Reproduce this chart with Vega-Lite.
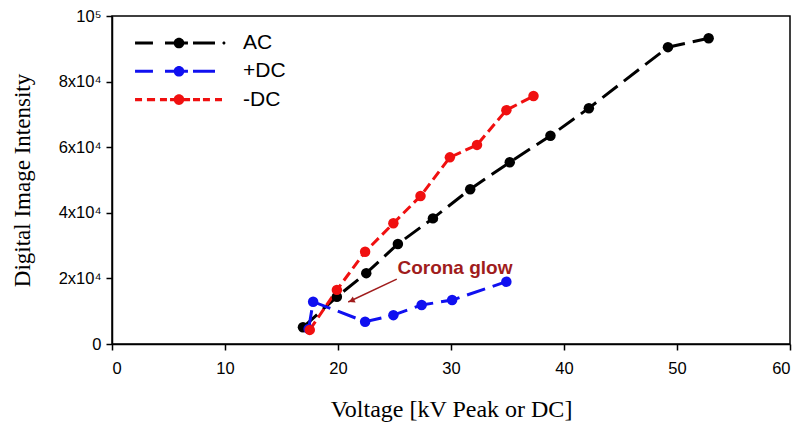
{
  "$schema": "https://vega.github.io/schema/vega-lite/v6.json",
  "width": 678,
  "height": 328,
  "autosize": {"type": "none"},
  "padding": {"left": 112, "top": 16, "right": 9, "bottom": 83},
  "background": "white",
  "config": {
    "view": {"stroke": "black", "strokeWidth": 1.5},
    "axis": {
      "domainColor": "black", "domainWidth": 1.5, "tickColor": "black", "tickWidth": 1.5, "tickSize": 6,
      "grid": false, "labelColor": "black", "labelFont": "Liberation Sans", "labelFontSize": 16.5,
      "titleColor": "black", "titleFont": "Liberation Serif", "titleFontSize": 23, "titleFontWeight": "normal"
    }
  },
  "datasets": {
    "series": [
      {"series": "AC", "v": 16.9, "i": 5100},
      {"series": "AC", "v": 19.9, "i": 14400},
      {"series": "AC", "v": 22.5, "i": 21600},
      {"series": "AC", "v": 25.3, "i": 30500},
      {"series": "AC", "v": 28.4, "i": 38300},
      {"series": "AC", "v": 31.7, "i": 47200},
      {"series": "AC", "v": 35.2, "i": 55400},
      {"series": "AC", "v": 38.8, "i": 63500},
      {"series": "AC", "v": 42.2, "i": 71900},
      {"series": "AC", "v": 49.2, "i": 90500},
      {"series": "AC", "v": 52.8, "i": 93200},
      {"series": "+DC", "v": 17.4, "i": 4600},
      {"series": "+DC", "v": 17.8, "i": 12900},
      {"series": "+DC", "v": 22.4, "i": 6800},
      {"series": "+DC", "v": 24.9, "i": 8800},
      {"series": "+DC", "v": 27.4, "i": 11900},
      {"series": "+DC", "v": 30.1, "i": 13400},
      {"series": "+DC", "v": 34.9, "i": 19000},
      {"series": "-DC", "v": 17.5, "i": 4300},
      {"series": "-DC", "v": 19.9, "i": 16500},
      {"series": "-DC", "v": 22.4, "i": 28100},
      {"series": "-DC", "v": 24.9, "i": 36800},
      {"series": "-DC", "v": 27.3, "i": 45100},
      {"series": "-DC", "v": 29.9, "i": 56900},
      {"series": "-DC", "v": 32.3, "i": 60700},
      {"series": "-DC", "v": 34.9, "i": 71300},
      {"series": "-DC", "v": 37.3, "i": 75600}
    ],
    "arrow": [{"v": 25.2, "i": 19800, "v2": 20.9, "i2": 12800}],
    "head": [{"v": 21.2, "i": 13200}],
    "label": [{"v": 30.35, "i": 23200, "text": "Corona glow"}]
  },
  "encoding": {
    "x": {
      "field": "v", "type": "quantitative",
      "scale": {"domain": [0, 60], "nice": false},
      "axis": {"title": "Voltage [kV Peak or DC]", "titleFontSize": 24, "values": [0, 10, 20, 30, 40, 50, 60], "labelPadding": 10, "titlePadding": 21}
    },
    "y": {
      "field": "i", "type": "quantitative",
      "scale": {"domain": [0, 100000], "nice": false},
      "axis": {
        "title": "Digital Image Intensity", "values": [0, 20000, 40000, 60000, 80000, 100000],
        "labelExpr": "datum.value == 0 ? '0' : datum.value == 100000 ? '10⁵' : (datum.value / 10000) + 'x10⁴'",
        "labelPadding": 5, "titlePadding": 24
      }
    }
  },
  "layer": [
    {
      "data": {"name": "series"},
      "mark": {"type": "line", "strokeWidth": 3},
      "encoding": {
        "color": {
          "field": "series", "type": "nominal",
          "scale": {"domain": ["AC", "+DC", "-DC"], "range": ["#000000", "#1010f0", "#f01010"]},
          "legend": {
            "orient": "none", "legendX": 53, "legendY": 13, "title": null,
            "symbolSize": 784, "labelOffset": 50, "labelFontSize": 21, "labelFont": "Liberation Sans",
            "labelColor": "black", "rowPadding": 4.3, "padding": 0, "symbolStrokeWidth": 0,
            "encode": {
              "symbols": {
                "update": {
                  "shape": {"signal": "datum.value === '-DC' ? 'M-3.14,-0.11H-2.64V0.11H-3.14Z M-2.29,-0.11H-1.71V0.11H-2.29Z M-1.36,-0.11H-0.86V0.11H-1.36Z M-0.64,-0.11H-0.36V0.11H-0.64Z M-0.38,0A0.38,0.38 0 1,1 0.38,0A0.38,0.38 0 1,1 -0.38,0Z M0.36,-0.11H0.79V0.11H0.36Z M1,-0.11H1.5V0.11H1Z M1.71,-0.11H2.21V0.11H1.71Z M2.57,-0.11H3.07V0.11H2.57Z' : datum.value === 'AC' ? 'M-3.14,-0.11H-1.86V0.11H-3.14Z M-1,-0.11H-0.36V0.11H-1Z M-0.38,0A0.38,0.38 0 1,1 0.38,0A0.38,0.38 0 1,1 -0.38,0Z M0.36,-0.11H0.64V0.11H0.36Z M1,-0.11H2.57V0.11H1Z M3.1,0A0.11,0.11 0 1,1 3.32,0A0.11,0.11 0 1,1 3.1,0Z' : 'M-3.14,-0.11H-1.86V0.11H-3.14Z M-1,-0.11H-0.36V0.11H-1Z M-0.38,0A0.38,0.38 0 1,1 0.38,0A0.38,0.38 0 1,1 -0.38,0Z M0.36,-0.11H0.64V0.11H0.36Z M1,-0.11H2.57V0.11H1Z'"},
                  "fill": {"scale": "color", "field": "value"},
                  "strokeWidth": {"value": 0},
                  "opacity": {"value": 1}
                }
              }
            }
          }
        },
        "strokeDash": {
          "field": "series", "type": "nominal",
          "scale": {"domain": ["AC", "+DC", "-DC"], "range": [[19, 8], [19, 8], [10, 5]]},
          "legend": null
        }
      }
    },
    {
      "data": {"name": "series"},
      "mark": {"type": "point", "filled": true, "size": 110, "opacity": 1},
      "encoding": {
        "color": {"field": "series", "type": "nominal"}
      }
    },
    {
      "data": {"name": "arrow"},
      "mark": {"type": "rule", "color": "#a01c1c", "strokeWidth": 1.5},
      "encoding": {
        "x2": {"field": "v2"},
        "y2": {"field": "i2"}
      }
    },
    {
      "data": {"name": "head"},
      "mark": {"type": "point", "shape": "triangle-up", "filled": true, "color": "#a01c1c", "size": 45, "angle": 245, "opacity": 1},
      "encoding": {}
    },
    {
      "data": {"name": "label"},
      "mark": {"type": "text", "font": "Liberation Sans", "fontWeight": "bold", "fontSize": 19, "color": "#a01c1c", "align": "center", "baseline": "middle"},
      "encoding": {"text": {"field": "text"}}
    }
  ]
}
